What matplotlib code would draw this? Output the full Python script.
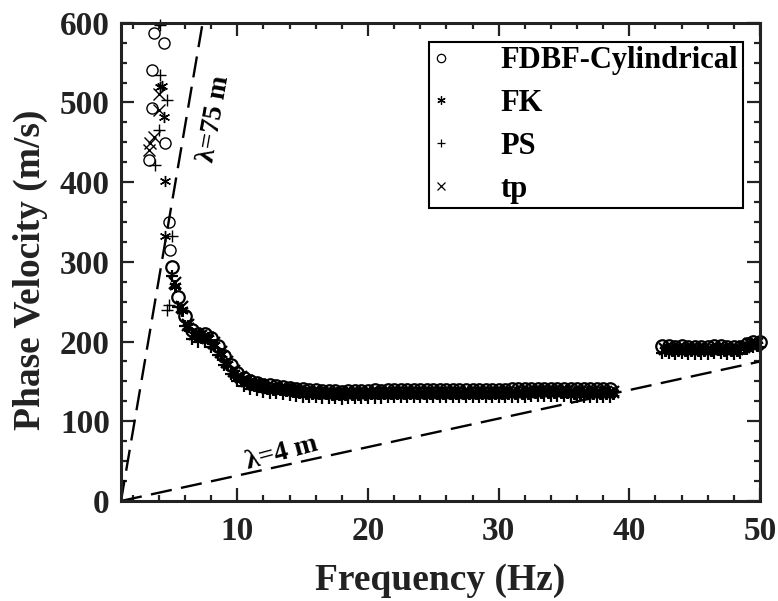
import matplotlib
matplotlib.use("Agg")
import matplotlib.pyplot as plt
from matplotlib.ticker import MultipleLocator

plt.rcParams['font.family'] = ['Liberation Serif', 'DejaVu Serif']
plt.rcParams['font.weight'] = 'bold'

# scattered low-frequency picks (f in Hz, v in m/s)
fdbf_lo_f = [3.6, 4.36, 3.47, 3.47, 4.49, 3.21, 4.74, 4.87]
fdbf_lo_v = [587, 575, 541, 493, 449, 428, 350, 315]
fk_lo_f = [4.06, 4.24, 4.36, 4.49, 4.49]
fk_lo_v = [519, 521, 482, 401, 332]
ps_lo_f = [4.1, 4.1, 4.62, 3.98, 3.74, 5.0, 4.6, 4.75]
ps_lo_v = [597, 534, 503, 465, 421, 332, 240, 246]
tp_lo_f = [3.98, 3.98, 3.6, 3.34, 3.21]
tp_lo_v = [511, 490, 457, 449, 440]

# main dispersion branch
freq_a = [5.0, 5.5, 6.0, 6.5, 7.0, 7.5, 8.0, 8.5, 9.0, 9.5, 10.0, 10.5, 11.0, 11.5,
          12.0, 12.5, 13.0, 13.5, 14.0, 14.5, 15.0, 15.5, 16.0, 16.5, 17.0, 17.5,
          18.0, 18.5, 19.0, 19.5, 20.0, 20.5, 21.0, 21.5, 22.0, 22.5, 23.0, 23.5,
          24.0, 24.5, 25.0, 25.5, 26.0, 26.5, 27.0, 27.5, 28.0, 28.5, 29.0, 29.5,
          30.0, 30.5, 31.0, 31.5, 32.0, 32.5, 33.0, 33.5, 34.0, 34.5, 35.0, 35.5,
          36.0, 36.5, 37.0, 37.5, 38.0, 38.5]
freq_b = [5.25, 5.75, 6.25, 6.75, 7.25, 7.75, 8.25, 8.75, 9.25, 9.75, 10.25, 10.75,
          11.25, 11.75, 12.25, 12.75, 13.25, 13.75, 14.25, 14.75, 15.25, 15.75,
          16.25, 16.75, 17.25, 17.75, 18.25, 18.75, 19.25, 19.75, 20.25, 20.75,
          21.25, 21.75, 22.25, 22.75, 23.25, 23.75, 24.25, 24.75, 25.25, 25.75,
          26.25, 26.75, 27.25, 27.75, 28.25, 28.75, 29.25, 29.75, 30.25, 30.75,
          31.25, 31.75, 32.25, 32.75, 33.25, 33.75, 34.25, 34.75, 35.25, 35.75,
          36.25, 36.75, 37.25, 37.75, 38.25, 38.75]

fdbf_v = [294, 256, 232, 214, 210, 209, 204, 194, 182, 170, 160, 154, 150, 148,
          146, 145, 144, 143, 142, 141, 140, 139, 139, 138, 138, 138, 137, 138,
          138, 138, 138, 139, 138, 139, 139, 139, 139, 139, 139, 139, 139, 139,
          139, 139, 139, 139, 139, 139, 139, 139, 139, 139, 140, 140, 140, 141,
          141, 141, 141, 141, 141, 140, 140, 140, 140, 140, 140, 140]
ps_v = [282, 243, 219, 203, 200, 199, 193, 183, 171, 159, 150, 144, 141, 139,
        137, 136, 135, 134, 133, 132, 131, 130, 130, 129, 129, 129, 128, 129,
        129, 129, 129, 129, 129, 130, 130, 130, 130, 130, 130, 130, 130, 130,
        130, 130, 130, 130, 130, 130, 130, 130, 130, 130, 131, 131, 131, 132,
        132, 132, 132, 132, 132, 131, 131, 131, 131, 131, 131, 131]
fk_v = [270, 240, 219, 208, 206, 204, 196, 185, 172, 161, 153, 149, 146, 144,
        142, 141, 140, 139, 138, 137, 136, 135, 135, 135, 134, 134, 134, 134,
        134, 134, 135, 135, 135, 135, 135, 135, 135, 135, 135, 135, 135, 135,
        135, 135, 135, 135, 135, 135, 135, 135, 135, 136, 136, 136, 136, 137,
        137, 137, 137, 137, 137, 136, 136, 136, 136, 136, 136, 136]
tp_v = [273, 243, 221, 210, 207, 205, 198, 187, 174, 163, 155, 150, 147, 145,
        143, 142, 141, 140, 139, 138, 137, 136, 136, 136, 135, 135, 135, 135,
        135, 135, 136, 136, 136, 136, 136, 136, 136, 136, 136, 136, 136, 136,
        136, 136, 136, 136, 136, 136, 136, 136, 136, 137, 137, 137, 137, 138,
        138, 138, 138, 138, 138, 137, 137, 137, 137, 137, 137, 137]

# high-frequency branch
freq_hi_a = [42.5, 43.0, 43.5, 44.0, 44.5, 45.0, 45.5, 46.0, 46.5, 47.0, 47.5,
             48.0, 48.5, 49.0, 49.5, 50.0]
freq_hi_b = [42.75, 43.25, 43.75, 44.25, 44.75, 45.25, 45.75, 46.25, 46.75,
             47.25, 47.75, 48.25, 48.75, 49.25, 49.75]
fdbf_hi_v = [194, 194, 193, 194, 193, 193, 193, 193, 194, 194, 193, 193, 193, 197, 199, 199]
ps_hi_v = [186, 186, 185, 186, 185, 185, 185, 185, 186, 186, 185, 185, 186, 191, 193, 193]
fk_hi_v = [190, 190, 190, 190, 190, 190, 190, 190, 191, 190, 190, 190, 192, 196, 196]
tp_hi_v = [191, 191, 191, 191, 191, 191, 191, 191, 192, 191, 191, 191, 193, 197, 197]

# wavelength reference lines
lam75_f = [1.1, 7.35]
lam75_v = [0, 600]
lam4_f = [1.1, 50]
lam4_v = [0, 175]

fig = plt.figure(figsize=(7.78, 6.01), dpi=100)
ax = fig.add_axes([0.1555, 0.1664, 0.8214, 0.7958])

ax.plot(lam75_f, lam75_v, color='k', lw=1.7, ls=(0, (9, 4)))
ax.plot(lam4_f, lam4_v, color='k', lw=1.7, ls=(0, (9, 4)))

star = (6, 2, 0)
styles = [
    ('FDBF-Cylindrical', 'o', [fdbf_lo_f, freq_a, freq_hi_a], [fdbf_lo_v, fdbf_v, fdbf_hi_v]),
    ('FK', star, [fk_lo_f, freq_b, freq_hi_b], [fk_lo_v, fk_v, fk_hi_v]),
    ('PS', '+', [ps_lo_f, freq_a, freq_hi_a], [ps_lo_v, ps_v, ps_hi_v]),
    ('tp', 'x', [tp_lo_f, freq_b, freq_hi_b], [tp_lo_v, tp_v, tp_hi_v]),
]
handles = []
for name, mk, fs, vs in styles:
    h = None
    for i, (f, v) in enumerate(zip(fs, vs)):
        # scattered picks drawn thinner than the dense branches
        if i == 0:
            ms, mew = 8, 1.0
        else:
            ms, mew = 9, 1.6
        line, = ax.plot(f, v, ls='none', marker=mk, ms=ms, mew=mew,
                        mfc='none', mec='k', color='k', clip_on=False)
        if h is None:
            h = line
    h.set_label(name)
    handles.append(h)

ax.text(8.2, 480, 'λ=75 m', rotation=80, ha='center', va='center',
        fontsize=20, fontweight='bold')
ax.text(13.4, 60, 'λ=4 m', rotation=15, ha='center', va='center',
        fontsize=20, fontweight='bold')

ax.set_xlim(1.1, 50)
ax.set_ylim(0, 600)
ax.xaxis.set_major_locator(MultipleLocator(10))
ax.xaxis.set_minor_locator(MultipleLocator(2))
ax.yaxis.set_major_locator(MultipleLocator(100))
ax.yaxis.set_minor_locator(MultipleLocator(25))
ax.tick_params(which='both', direction='in', top=True, right=True, width=1.6,
               color='#222222')
ax.tick_params(which='major', length=9.5)
ax.tick_params(which='minor', length=4.5)
ax.tick_params(axis='x', which='major', labelsize=24, pad=11)
ax.tick_params(axis='y', which='major', labelsize=24, pad=8)
for lab in ax.get_xticklabels() + ax.get_yticklabels():
    lab.set_fontweight('bold')
    lab.set_color('#222222')
for sp in ax.spines.values():
    sp.set_linewidth(2.2)
    sp.set_color('#222222')

ax.set_xlabel('Frequency (Hz)', fontsize=27, fontweight='bold', color='#222222',
              labelpad=11)
ax.set_ylabel('Phase Velocity (m/s)', fontsize=27, fontweight='bold',
              color='#222222')
ax.yaxis.set_label_coords(-0.114, 0.483)

leg = ax.legend(handles=handles, loc='upper right', bbox_to_anchor=(0.973, 0.96),
                borderaxespad=0, fancybox=False, edgecolor='k', framealpha=1,
                prop={'size': 22, 'weight': 'bold'}, markerscale=0.75,
                handlelength=0.5, handletextpad=1.7, borderpad=0.15,
                labelspacing=0.45)
leg.get_frame().set_linewidth(1.5)
for lh in leg.legend_handles:
    lh.set_markersize(6)
    lh.set_markeredgewidth(0.9)

fig.savefig('out.png', dpi=100)
